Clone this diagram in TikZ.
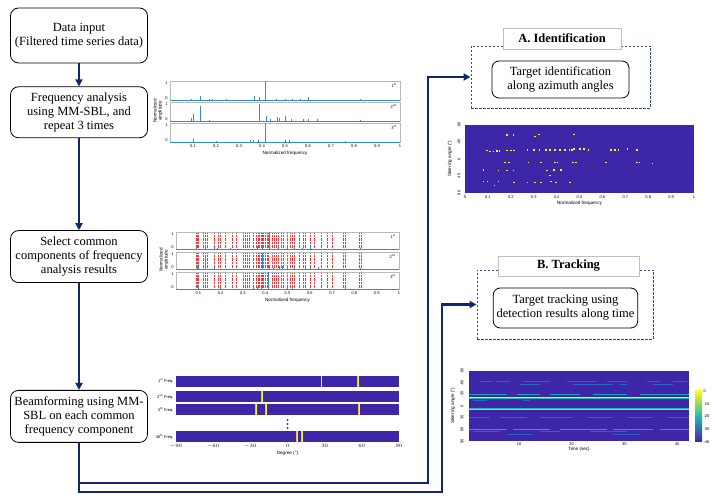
\documentclass[tikz,border=0pt]{standalone}
\usepackage{fontspec}
\setmainfont{Liberation Serif}
\setsansfont{Liberation Sans}
\usepackage{tikz}
\usetikzlibrary{arrows.meta,positioning}

\definecolor{navyline}{RGB}{18,38,110}
\definecolor{parulaA}{RGB}{62,38,168}
\definecolor{parulaY}{RGB}{249,251,21}
\definecolor{parulaC}{RGB}{35,185,170}
\definecolor{parulaL}{RGB}{30,135,225}
\definecolor{parulaO}{RGB}{250,190,60}
\definecolor{spikeblue}{RGB}{50,140,205}

% spectra of the three runs (normalized frequency / amplitude)
\newcommand{\spikesfirst}{0.09/0.05, 0.133/0.22, 0.17/0.06, 0.185/0.05, 0.245/0.04, 0.366/0.2, 0.386/0.18, 0.416/1, 0.46/0.04, 0.5/0.05, 0.53/0.06, 0.565/0.06, 0.6/0.15, 0.825/0.06}
\newcommand{\spikessecond}{0.094/0.15, 0.101/0.35, 0.133/0.78, 0.17/0.05, 0.387/0.88, 0.417/0.25, 0.435/0.08, 0.464/0.2, 0.476/0.15, 0.5/0.25, 0.529/0.1, 0.58/0.08, 0.601/0.1, 0.638/0.1, 0.826/0.05}
\newcommand{\spikesthird}{0.099/0.15, 0.2/0.03, 0.348/0.08, 0.362/0.1, 0.384/0.08, 0.413/1, 0.5/0.1, 0.52/0.12, 0.76/0.05}
\newcommand{\commonfreqs}{0.09,0.095,0.10,0.12,0.13,0.14,0.17,0.19,0.2,0.22,0.25,0.27,0.3,0.31,0.32,0.33,0.345,0.36,0.37,0.375,0.38,0.385,0.39,0.4,0.41,0.415,0.43,0.44,0.45,0.46,0.47,0.48,0.5,0.51,0.52,0.53,0.55,0.57,0.58,0.6,0.62,0.65,0.68,0.7,0.75,0.76,0.82,0.83}
% one subplot: left, width, top, height, spike list
\newcommand{\specrow}[5]{%
  \draw[frame] (#1,#3) rectangle ({#1+#2},{#3+#4});
  \foreach \t in {1,...,9} \draw[frame] ({#1+#2*\t/10},#3) -- ++(0,1.2);
  \draw[spike] (#1,{#3+#4}) -- ({#1+#2},{#3+#4});
  \foreach \f/\a in #5 \draw[spike] ({#1+#2*\f},{#3+#4}) -- ++(0,{-#4*\a});
}

\begin{document}
\begin{tikzpicture}[x=1pt, y=-1pt,
    every node/.style={font=\fontsize{12.5}{14}\selectfont},
    stepbox/.style={draw, line width=0.8pt, rounded corners=8pt, fill=white, align=center, minimum width=137pt, inner xsep=1pt, inner ysep=3pt, minimum height=52pt},
    flow/.style={navyline, line width=2.2pt, -{Triangle[length=7pt, width=7pt]}},
    zone/.style={draw=navyline!85, line width=0.9pt, dash pattern=on 2.5pt off 1.5pt},
    zonetitle/.style={draw=gray!50, fill=white, font=\fontsize{12.5}{14}\selectfont\bfseries},
    taskbox/.style={draw, line width=0.8pt, rounded corners=7pt, align=center},
    tiny/.style={font=\sffamily\fontsize{4}{4.5}\selectfont, inner sep=0.3pt},
    axlabel/.style={font=\sffamily\fontsize{4.6}{5}\selectfont, inner sep=0.5pt, align=center},
    frame/.style={draw=gray!55, line width=0.3pt},
    spike/.style={draw=spikeblue, line width=0.4pt},
    redline/.style={draw=red!80, line width=0.3pt, dash pattern=on 0.8pt off 0.6pt},
    beamline/.style={draw=parulaY, line width=0.7pt},
    streak/.style={line width=0.7pt}]

\useasboundingbox (0,0) rectangle (715,502);

% processing steps
\node[stepbox, minimum height=55pt] (input) at (79,35.5) {Data input\\(Filtered time series data)};
\node[stepbox, minimum height=51pt, below=23pt of input] (freq) {Frequency analysis\\using MM-SBL, and\\repeat 3 times};
\node[stepbox, below=92pt of freq] (select) {Select common\\components of frequency\\analysis results};
\node[stepbox, below=107pt of select] (beam) {Beamforming using MM-\\SBL on each common\\frequency component};

\draw[flow] (input) -- (freq);
\draw[flow] (freq) -- (select);
\draw[flow] (select) -- (beam);

% applications
\node[zone, minimum width=179pt, minimum height=62pt] (identzone) at (560.5,77) {};
\node[zonetitle, minimum width=118pt, minimum height=21pt] (identtitle) at (562,38.5) {A. Identification};
\node[taskbox, minimum width=137pt, minimum height=37pt] (identtask) at (560.5,79.5) {Target identification\\along azimuth angles};

\node[zone, minimum width=176pt, minimum height=69pt] (trackzone) at (565,304.5) {};
\node[zonetitle, minimum width=141pt, minimum height=20pt] (tracktitle) at (568.5,266) {B. Tracking};
\node[taskbox, minimum width=141pt, minimum height=40pt] (tracktask) at (565.5,308) {Target tracking using\\detection results along time};

\coordinate (toident) at (428,483);
\coordinate (totrack) at (442,492);
\draw[flow] (beam.south) |- (toident) |- (identzone.west);
\draw[flow] (beam.south) |- (totrack) |- (trackzone.west);

% spectra of the three runs
\specrow{170}{230}{81}{19}{\spikesfirst}
\specrow{170}{230}{102}{19}{\spikessecond}
\specrow{170}{230}{123}{19}{\spikesthird}
\foreach \top/\lab in {81/1\textsuperscript{st}, 102/2\textsuperscript{nd}, 123/3\textsuperscript{rd}} {
  \node[tiny, anchor=east] at (168,\top+2) {1};
  \node[tiny, anchor=east] at (168,\top+17.5) {0};
  \node[tiny, anchor=north east] at (397,\top+2) {\lab};
}
\foreach \t in {1,...,9} \node[tiny, anchor=north] at ({170+23*\t},144) {0.\t};
\node[tiny, anchor=north] at (400,144) {1};
\node[axlabel, anchor=north] at (285,150) {Normalized frequency};
\node[axlabel, rotate=90] at (158,111) {Normalized\\amplitude};

% common components
\foreach \top in {232,252,272}
  \foreach \f in \commonfreqs \draw[redline] ({176+223*\f},\top) -- ++(0,17);
\specrow{176}{223}{232}{17}{\spikesfirst}
\specrow{176}{223}{252}{17}{\spikessecond}
\specrow{176}{223}{272}{17}{\spikesthird}
\foreach \top/\lab in {232/1\textsuperscript{st}, 252/2\textsuperscript{nd}, 272/3\textsuperscript{rd}} {
  \node[tiny, anchor=east] at (174,\top+2) {1};
  \node[tiny, anchor=east] at (174,\top+15.5) {0};
  \node[tiny, anchor=north east] at (396,\top+2) {\lab};
}
\foreach \t in {1,...,9} \node[tiny, anchor=north] at ({176+22.3*\t},291) {0.\t};
\node[tiny, anchor=north] at (399,291) {1};
\node[axlabel, anchor=north] at (287.5,297) {Normalized frequency};
\node[axlabel, rotate=90] at (164,260) {Normalized\\amplitude};

% beamforming per frequency
\foreach \top/\lab in {376/1\textsuperscript{st}, 391/2\textsuperscript{nd}, 404/3\textsuperscript{rd}, 431/48\textsuperscript{th}} {
  \fill[parulaA] (176,\top) rectangle (399,\top+11);
  \node[tiny, anchor=east] at (174,\top+5.5) {\lab{} Freq.};
}
\foreach \top/\d in {376/27.7, 376/56.8, 391/-20.6, 404/-25.5, 404/-17.4, 404/57.6, 431/7.6, 431/11.6} {
  \draw[parulaO, line width=1.2pt] ({176+1.239*(\d+90)},\top) -- ++(0,11);
  \draw[beamline] ({176+1.239*(\d+90)},\top) -- ++(0,11);
}
\foreach \y in {420,424,428} \fill[navyline] (287.5,\y) circle (1pt);
\foreach \d in {-90,-60,...,90} \node[tiny, anchor=north] at ({176+1.239*(\d+90)},444) {$\d$};
\node[axlabel, anchor=north] at (287.5,450) {Degree (°)};

% identification map
\fill[parulaA] (465,125) rectangle (694,193);
\begin{scope}[shift={(440,0)}, scale=1/3]
  \foreach \x/\y in {200/405,220/405,285/410,297/404,402/403,140/452,150/455,160/455,170/453,178/453,200/452,212/452,222/452,262/450,282/450,298/450,318/450,330/450,345/450,360/450,375/450,388/450,395/450,402/447,420/447,432/447,445/450,512/450,525/450,535/450,562/447,590/450,195/488,207/488,265/488,302/488,345/487,352/487,398/487,408/487,497/488,590/488,598/488,637/490,130/510,175/512,200/512,220/512,320/512,342/510,362/510,330/527,130/545,142/545,175/545,222/548,262/548,285/548,302/547,332/545,348/548,390/547,163/557}
    \fill[parulaY] (\x-2.5,\y-1.8) rectangle (\x+2.5,\y+1.8);
\end{scope}
\node[tiny, anchor=north] at (465,195) {0};
\foreach \t in {1,...,9} \node[tiny, anchor=north] at ({465+22.9*\t},195) {0.\t};
\node[tiny, anchor=north] at (694,195) {1};
\node[axlabel, anchor=north] at (579.5,200) {Normalized frequency};
\foreach \a [count=\i from 0] in {-90,-45,0,45,90} \node[tiny, rotate=90] at (459,{125+17*\i}) {\a};
\node[axlabel, rotate=90] at (450,159) {Steering angle (°)};

% tracking map
\fill[parulaA] (469,371) rectangle (689,441);
\begin{scope}[shift={(440,230)}, scale=1/3]
  \foreach \y/\a/\b in {453/120/160, 453/170/210, 453/250/330, 453/380/470, 453/500/560, 453/620/660, 453/700/740,
      462/240/300, 462/400/520, 462/540/560, 462/640/700, 512/100/140, 512/250/270,
      563/88/150, 563/180/260, 563/300/400, 563/440/520, 563/560/640, 563/680/748,
      604/100/180, 604/300/360, 604/450/560, 612/200/280, 612/520/600}
    \draw[streak, parulaL!65!parulaA] (\a,\y) -- (\b,\y);
  \foreach \y/\a/\b in {493/88/200, 493/230/300, 493/330/420, 493/460/560, 493/600/748,
      598/88/200, 598/220/330, 598/360/500, 598/520/640, 598/660/748}
    \draw[streak, parulaC!50!parulaL] (\a,\y) -- (\b,\y);
  \draw[parulaC, line width=2.2pt] (88,503) -- (748,503);
  \draw[parulaY, line width=0.9pt] (88,503) -- (748,503);
  \draw[parulaC, line width=1.8pt] (88,538) -- (748,538);
  \draw[parulaO, line width=0.7pt] (88,538) -- (748,538);
\end{scope}
\shade[top color=parulaY, bottom color=parulaA, middle color=parulaC] (695,391) rectangle (702,442);
\foreach \v [count=\i from 0] in {0,-10,-20,-30,-40} \node[tiny, anchor=west] at (703,{391+12.75*\i}) {\v};
\foreach \a [count=\i from 0] in {-90,-60,-30,0,30,60,90} \node[tiny, rotate=90] at (462,{371+11.67*\i}) {\a};
\foreach \t in {10,20,30,40} \node[tiny, anchor=north] at ({466.3+5.27*\t},442.5) {\t};
\node[axlabel, anchor=north] at (579,446) {Time (sec)};
\node[axlabel, rotate=90] at (453,406) {Steering angle (°)};
\end{tikzpicture}
\end{document}
